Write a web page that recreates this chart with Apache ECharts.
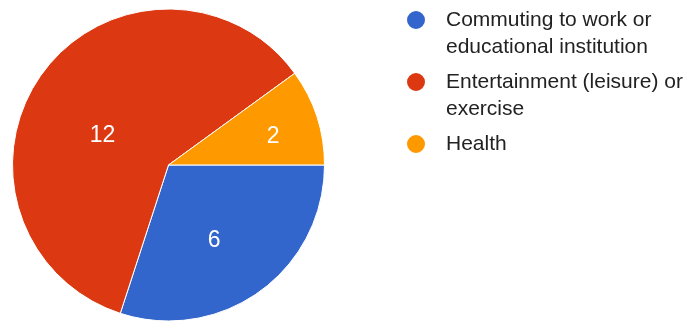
<!DOCTYPE html>
<html>
<head>
<meta charset="utf-8">
<script src="https://cdn.jsdelivr.net/npm/echarts@6/dist/echarts.min.js"></script>
<style>
  html, body { margin: 0; padding: 0; background: #fff; }
  #chart { width: 689px; height: 323px; }
</style>
</head>
<body>
<div id="chart"></div>
<script>
// Purpose of trips
const categories = [
  'Commuting to work or educational institution',
  'Entertainment (leisure) or exercise',
  'Health'
];
const counts = [6, 12, 2];

// Slice colours and per-slice label nudges (px)
const sliceColors = ['#3366cc', '#dc3912', '#ff9900'];
const labelNudge = [[-2, 10], [-0.5, 18], [27.5, -3]];
// Legend text padding: two-line entries are pushed down so the dot sits by
// the first line; the one-line entry is padded evenly to keep equal spacing
const legendPad = [[27, 0, 0, 0], [27, 0, 0, 0], [27, 0, 27, 0]];

const FONT = '"Liberation Sans", Arial, sans-serif';

const chart = echarts.init(document.getElementById('chart'), null, { renderer: 'canvas' });

chart.setOption({
  animation: false,
  color: sliceColors,
  legend: {
    orient: 'vertical',
    left: 405,
    top: -20.5,
    padding: 0,
    icon: 'circle',
    itemWidth: 50,
    itemHeight: 20,
    itemGap: -19,
    selectedMode: false,
    data: categories.map((name, i) => ({
      name,
      textStyle: { padding: legendPad[i] }
    })),
    textStyle: {
      color: '#222',
      fontFamily: FONT,
      fontSize: 21,
      lineHeight: 27,
      width: 250,
      overflow: 'break',
      rich: { t: { fontFamily: FONT, fontSize: 21, lineHeight: 27, color: '#222' } }
    }
  },
  series: [{
    type: 'pie',
    center: [168.5, 165],
    radius: 156,
    startAngle: 0,
    clockwise: true,
    avoidLabelOverlap: false,
    silent: true,
    itemStyle: { borderColor: '#fff', borderWidth: 1 },
    label: {
      show: true,
      position: 'inside',
      formatter: '{c}',
      color: '#fff',
      fontFamily: FONT,
      fontSize: 23
    },
    labelLine: { show: false },
    emphasis: { disabled: true },
    data: categories.map((name, i) => ({
      name,
      value: counts[i],
      label: { offset: labelNudge[i] }
    }))
  }]
});
</script>
</body>
</html>
